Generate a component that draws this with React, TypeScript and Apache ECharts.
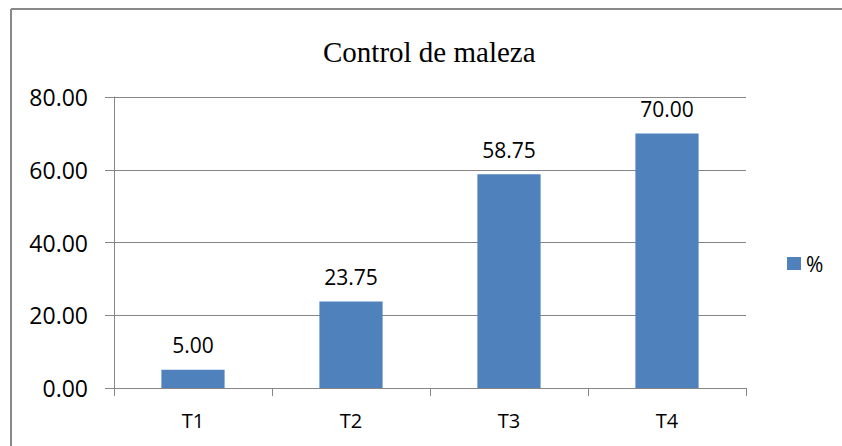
import React, { useEffect, useRef } from "react";
import * as echarts from "echarts";

const categories = ["T1", "T2", "T3", "T4"];
const values = [5.0, 23.75, 58.75, 70.0];
const seriesName = "%";
const titleText = "Control de maleza";
const yMin = 0;
const yMax = 80;
const yInterval = 20;

export default function App() {
  const ref = useRef<HTMLDivElement>(null);
  useEffect(() => {
    if (!ref.current) return;
    const chart = echarts.init(ref.current, undefined, { renderer: "svg" });
    const font = "'Open Sans', sans-serif";
    const gray = "#868686";
    chart.setOption({
      animation: false,
      backgroundColor: "#ffffff",
      title: {
        text: titleText,
        left: 318,
        top: 32,
        textStyle: {
          fontFamily: "'Liberation Serif', serif",
          fontSize: 29,
          fontWeight: "normal",
          color: "#000000",
        },
      },
      legend: {
        data: [seriesName],
        left: 782,
        top: 248,
        itemWidth: 14,
        itemHeight: 13,
        itemGap: 10,
        icon: "rect",
        textStyle: { fontFamily: font, fontSize: 21, color: "#000000" },
      },
      grid: { left: 114, right: 96, top: 97, bottom: 58 },
      xAxis: {
        type: "category",
        data: categories,
        axisLine: { lineStyle: { color: gray, width: 1 } },
        axisTick: { show: true, length: 8, lineStyle: { color: gray } },
        axisLabel: { fontFamily: font, fontSize: 20, color: "#000000", margin: 22 },
      },
      yAxis: {
        type: "value",
        min: yMin,
        max: yMax,
        interval: yInterval,
        axisLine: { show: true, lineStyle: { color: gray, width: 1 } },
        axisTick: { show: true, length: 9, lineStyle: { color: gray } },
        splitLine: { lineStyle: { color: gray, width: 1 } },
        axisLabel: {
          fontFamily: font,
          fontSize: 23,
          color: "#000000",
          margin: 26,
          formatter: (v: number) => v.toFixed(2),
        },
      },
      series: [
        {
          name: seriesName,
          type: "bar",
          data: values,
          barCategoryGap: "60%",
          itemStyle: { color: "#4F81BD" },
          label: {
            show: true,
            position: "top",
            distance: 14,
            fontFamily: font,
            fontSize: 21,
            color: "#000000",
            formatter: (p: any) => Number(p.value).toFixed(2),
          },
        },
      ],
      graphic: [
        {
          type: "line",
          shape: { x1: 11, y1: 9, x2: 842, y2: 9 },
          style: { stroke: "#898989", lineWidth: 2 },
        },
        {
          type: "line",
          shape: { x1: 11, y1: 9, x2: 11, y2: 446 },
          style: { stroke: "#898989", lineWidth: 2 },
        },
      ],
    });
    return () => chart.dispose();
  }, []);
  return (
    <div
      ref={ref}
      style={{ position: "fixed", left: 0, top: 0, width: 842, height: 446 }}
    />
  );
}
